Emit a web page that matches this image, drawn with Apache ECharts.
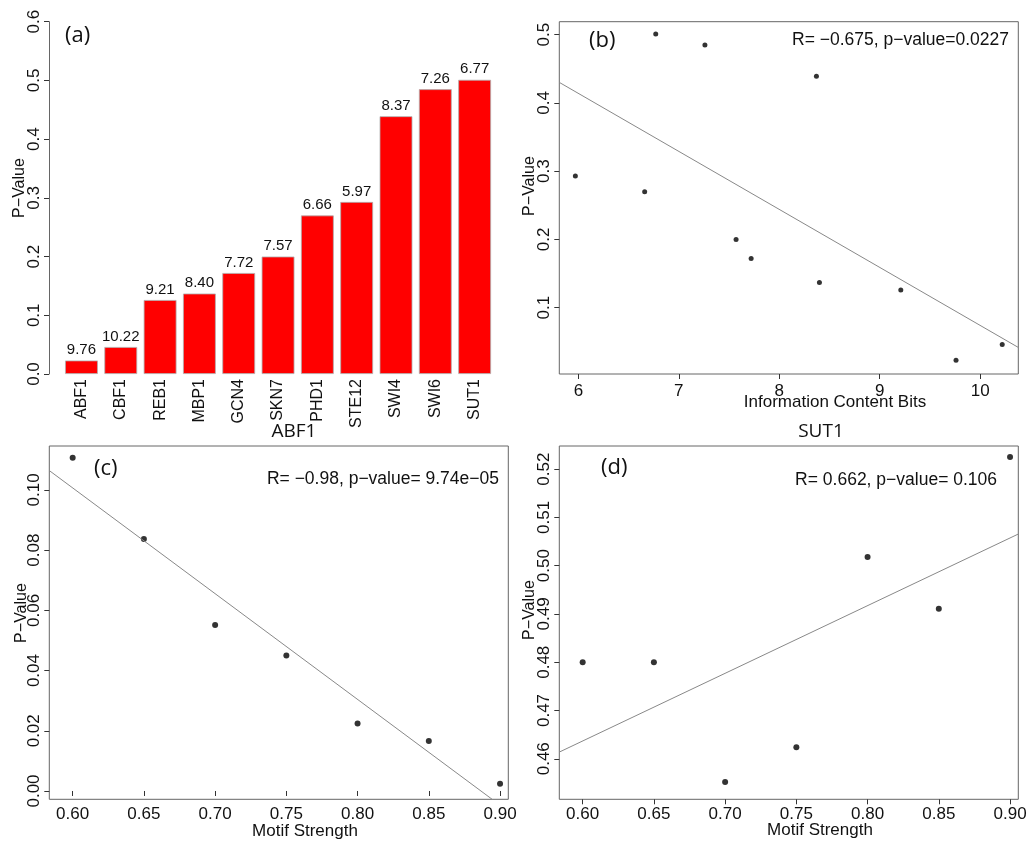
<!DOCTYPE html>
<html>
<head>
<meta charset="utf-8">
<script src="https://cdn.jsdelivr.net/npm/echarts@6/dist/echarts.min.js"></script>
<style>
html,body{margin:0;padding:0;background:#fff;}
#chart{width:1030px;height:842px;}
</style>
</head>
<body>
<div id="chart"></div>
<script>
// ---------- data ----------
const tfNames = ['ABF1','CBF1','REB1','MBP1','GCN4','SKN7','PHD1','STE12','SWI4','SWI6','SUT1'];
const icBits = [9.76,10.22,9.21,8.40,7.72,7.57,6.66,5.97,8.37,7.26,6.77];
const tfPValues = [0.023,0.046,0.126,0.137,0.172,0.200,0.270,0.293,0.439,0.485,0.501];
const motifStrength = [0.60,0.65,0.70,0.75,0.80,0.85,0.90];
const abf1PValues = [0.1107,0.0837,0.0551,0.0450,0.0224,0.0166,0.0024];
const sut1PValues = [0.4800,0.4800,0.4552,0.4624,0.5018,0.4911,0.5225];
// tick labels
const ticksBX = [6,7,8,9,10];
const ticksBY = [0.1,0.2,0.3,0.4,0.5];
const ticksMotifX = [0.60,0.65,0.70,0.75,0.80,0.85,0.90];
const ticksCY = [0.00,0.02,0.04,0.06,0.08,0.10];
const ticksDY = [0.46,0.47,0.48,0.49,0.50,0.51,0.52];
// annotation texts
const annB = 'R= \u22120.675, p\u2212value=0.0227';
const annC = 'R= \u22120.98, p\u2212value= 9.74e\u221205';
const annD = 'R= 0.662, p\u2212value= 0.106';

// ---------- helpers ----------
function linFit(xs, ys){
  const n = xs.length;
  const mx = xs.reduce((a,b)=>a+b,0)/n, my = ys.reduce((a,b)=>a+b,0)/n;
  let sxy=0, sxx=0;
  for(let i=0;i<n;i++){ sxy += (xs[i]-mx)*(ys[i]-my); sxx += (xs[i]-mx)*(xs[i]-mx); }
  const b = sxy/sxx, a = my - b*mx;
  return x => a + b*x;
}
const FONT = 'Liberation Sans, Arial, sans-serif';
const TICKFS = 17;
const BOX = '#666';

const bRange = {xmin:5.81, xmax:10.38, ymin:0.0029, ymax:0.519};
const cRange = {xmin:0.5836, xmax:0.9058, ymin:-0.00276, ymax:0.1146};
const dRange = {xmin:0.5836, xmax:0.9058, ymin:0.4516, ymax:0.5248};

const fitB = linFit(icBits, tfPValues);
const fitC = linFit(motifStrength, abf1PValues);
const fitD = linFit(motifStrength, sut1PValues);

function valAxisX(gi, r, ticks, fmt, margin){
  return {type:'value', gridIndex:gi, min:r.xmin, max:r.xmax,
    axisLine:{show:false}, splitLine:{show:false},
    axisTick:{show:true, inside:false, length:5, customValues:ticks, lineStyle:{color:'#333'}},
    axisLabel:{customValues:ticks, formatter:fmt, fontSize:TICKFS, color:'#111', margin:margin, fontFamily:FONT}};
}
function valAxisY(gi, r, ticks, fmt){
  return {type:'value', gridIndex:gi, min:r.ymin, max:r.ymax,
    axisLine:{show:false}, splitLine:{show:false},
    axisTick:{show:true, inside:false, length:5, customValues:ticks, lineStyle:{color:'#333'}},
    axisLabel:{customValues:ticks, formatter:fmt, rotate:90, fontSize:TICKFS, color:'#111', margin:6, fontFamily:FONT}};
}
function scatterData(xs, ys){ return xs.map((x,i)=>[x, ys[i]]); }
function fitLine(f, r){ return [[r.xmin, f(r.xmin)], [r.xmax, f(r.xmax)]]; }

function txt(text, x, y, size, opts){
  opts = opts || {};
  return {type:'text', x:x, y:y, rotation: opts.rot || 0, silent:true,
    style:{text:text, fill:'#111', font: size+'px '+(opts.family||FONT),
      textAlign: opts.align || 'center', textVerticalAlign:'middle'}};
}

const chart = echarts.init(document.getElementById('chart'), null, {renderer:'canvas'});
const option = {
  animation:false,
  backgroundColor:'#fff',
  textStyle:{fontFamily:FONT},
  grid:[
    {left:61.8, top:21.7, width:432.5, height:352.3},
    {left:559.3, top:21.7, width:459, height:352.3, show:true, borderColor:BOX, borderWidth:1, backgroundColor:'transparent'},
    {left:49.3, top:446, width:459, height:353.3, show:true, borderColor:BOX, borderWidth:1, backgroundColor:'transparent'},
    {left:559.3, top:446, width:459, height:353.3, show:true, borderColor:BOX, borderWidth:1, backgroundColor:'transparent'}
  ],
  xAxis:[
    {type:'category', gridIndex:0, data:tfNames, axisLine:{show:false}, axisTick:{show:false},
      axisLabel:{rotate:90, fontSize:16, color:'#111', margin:5, fontFamily:FONT, interval:0}},
    valAxisX(1, bRange, ticksBX, v=>String(v), 9),
    valAxisX(2, cRange, ticksMotifX, v=>v.toFixed(2), 7),
    valAxisX(3, dRange, ticksMotifX, v=>v.toFixed(2), 7)
  ],
  yAxis:[
    {type:'value', gridIndex:0, min:0, max:0.6, interval:0.1, offset:12.8,
      axisLine:{show:true, lineStyle:{color:BOX}}, splitLine:{show:false},
      axisTick:{show:true, inside:false, length:5, lineStyle:{color:'#333'}},
      axisLabel:{rotate:90, fontSize:TICKFS, color:'#111', margin:6, formatter:v=>v.toFixed(1), fontFamily:FONT}},
    valAxisY(1, bRange, ticksBY, v=>v.toFixed(1)),
    valAxisY(2, cRange, ticksCY, v=>v.toFixed(2)),
    valAxisY(3, dRange, ticksDY, v=>v.toFixed(2))
  ],
  series:[
    {type:'bar', xAxisIndex:0, yAxisIndex:0, data:tfPValues, barWidth:32.8,
      itemStyle:{color:'#ff0000', borderColor:'#b0b0b0', borderWidth:0.8},
      label:{show:true, position:'top', distance:3, fontSize:15, color:'#111', fontFamily:FONT,
        formatter:p=>icBits[p.dataIndex].toFixed(2)}},
    {type:'line', xAxisIndex:1, yAxisIndex:1, data:fitLine(fitB, bRange), showSymbol:false, silent:true, clip:true,
      lineStyle:{color:'#888', width:1}},
    {type:'scatter', xAxisIndex:1, yAxisIndex:1, data:scatterData(icBits, tfPValues), symbolSize:5,
      itemStyle:{color:'#000'}},
    {type:'line', xAxisIndex:2, yAxisIndex:2, data:fitLine(fitC, cRange), showSymbol:false, silent:true, clip:true,
      lineStyle:{color:'#888', width:1}},
    {type:'scatter', xAxisIndex:2, yAxisIndex:2, data:scatterData(motifStrength, abf1PValues), symbolSize:6,
      itemStyle:{color:'#000'}},
    {type:'line', xAxisIndex:3, yAxisIndex:3, data:fitLine(fitD, dRange), showSymbol:false, silent:true, clip:true,
      lineStyle:{color:'#888', width:1}},
    {type:'scatter', xAxisIndex:3, yAxisIndex:3, data:scatterData(motifStrength, sut1PValues), symbolSize:6,
      itemStyle:{color:'#000'}}
  ],
  graphic:[
    txt('(a)', 65, 36, 22, {align:'left', family:'Open Sans'}),
    txt('(b)', 589, 41, 22, {align:'left', family:'Open Sans'}),
    txt('(c)', 94, 469, 22, {align:'left', family:'Open Sans'}),
    txt('(d)', 601, 468, 22, {align:'left', family:'Open Sans'}),
    txt('ABF1', 294, 432, 19, {family:'Open Sans'}),
    txt('SUT1', 821, 432, 19, {family:'Open Sans'}),
    txt('P\u2212Value', 20, 188, 16, {rot:Math.PI/2}),
    txt('P\u2212Value', 530, 186, 16, {rot:Math.PI/2}),
    txt('P\u2212Value', 22, 613, 16, {rot:Math.PI/2}),
    txt('P\u2212Value', 530, 610, 16, {rot:Math.PI/2}),
    txt('Information Content Bits', 835, 402, 17),
    txt('Motif Strength', 305, 831, 17),
    txt('Motif Strength', 820, 830, 17),
    txt(annB, 1009, 40, 17.5, {align:'right'}),
    txt(annC, 499, 479, 17.5, {align:'right'}),
    txt(annD, 997, 480, 17.5, {align:'right'})
  ]
};
chart.setOption(option);
</script>
</body>
</html>
